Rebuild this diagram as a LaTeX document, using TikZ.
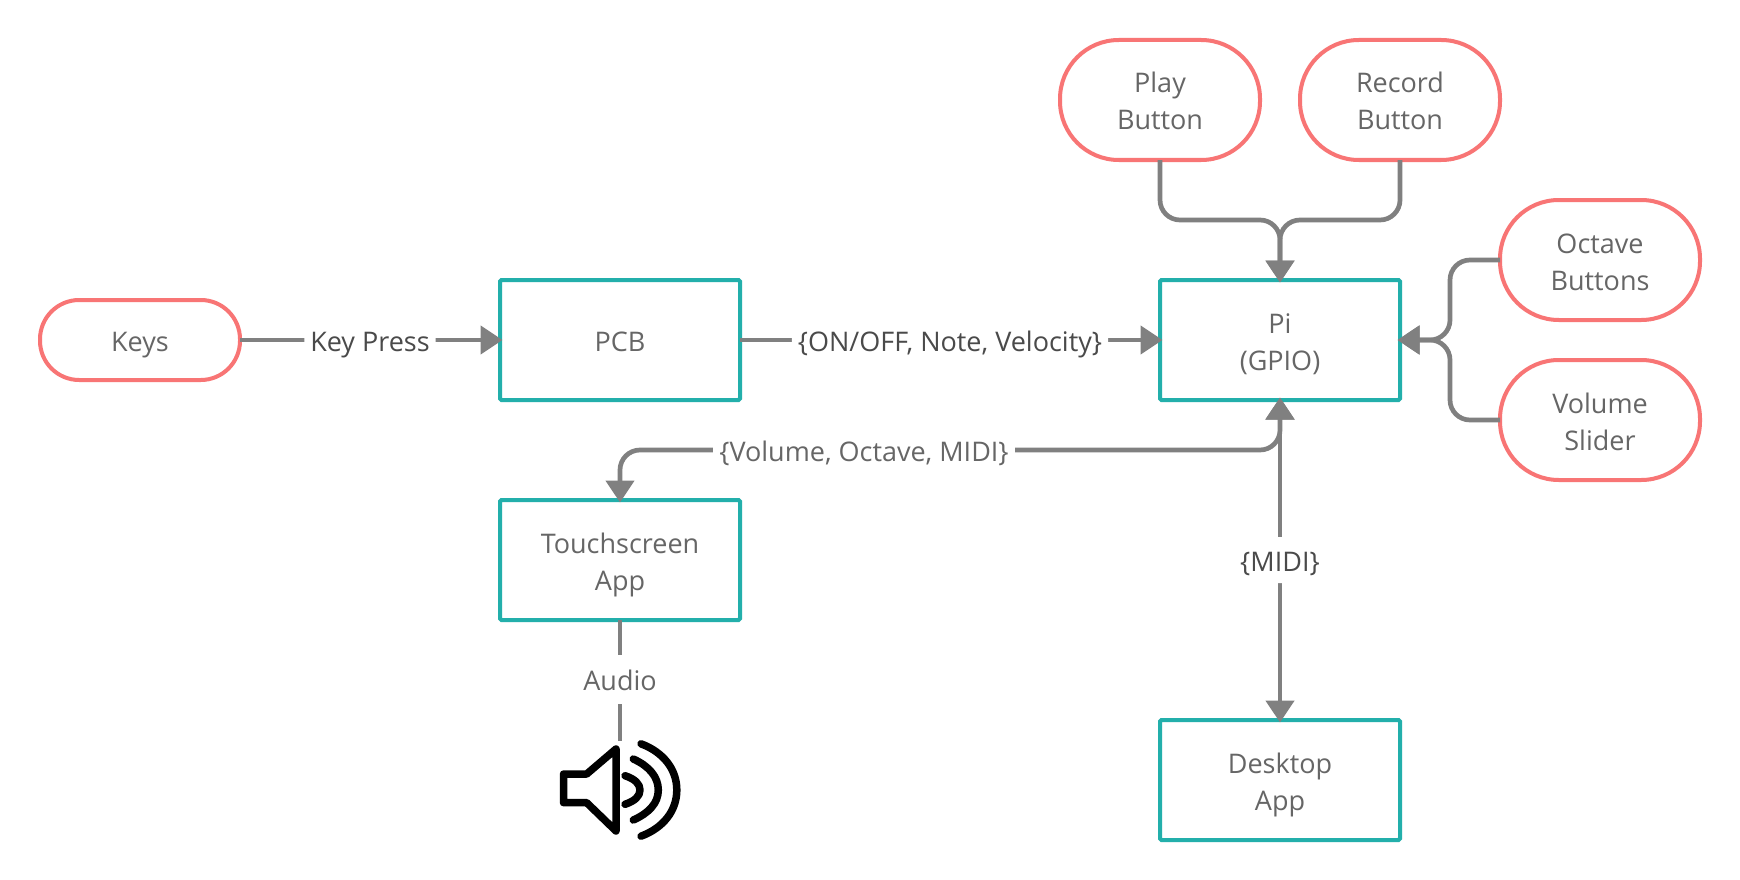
\documentclass[tikz,border=0pt]{standalone}
\usepackage{fontspec}
\setmainfont{Open Sans}
\usetikzlibrary{arrows.meta}
\definecolor{teal1}{HTML}{23AFAB}
\definecolor{red1}{HTML}{F87575}
\definecolor{conn1}{HTML}{808080}
\definecolor{txt1}{HTML}{666666}
\definecolor{txt2}{HTML}{4A4A4A}
\newcommand{\linestrut}{\rule[-7pt]{0pt}{37pt}}
\tikzset{
  x=1pt,y=-1pt,
  basefont/.style={font=\fontsize{27}{37}\selectfont,align=center,text=txt1},
  boxn/.style={basefont,draw=teal1,line width=4pt,rounded corners=1.5pt,minimum width=240pt,minimum height=120pt,outer sep=0pt,inner sep=0pt,fill=white},
  pill/.style={basefont,draw=red1,line width=4pt,minimum width=200pt,minimum height=#1,rounded corners=0.49*#1,outer sep=0pt,inner sep=0pt,fill=white},
  pill/.default=120pt,
  conn/.style={draw=conn1,line width=4.7pt,rounded corners=20pt,shorten >=-2.5pt,-{Triangle[length=22pt,width=28pt,fill=conn1]}},
  biconn/.style={conn,shorten <=-2.5pt,{Triangle[length=22pt,width=28pt,fill=conn1]}-{Triangle[length=22pt,width=28pt,fill=conn1]}},
  plain/.style={draw=conn1,line width=4.7pt},
  lbl/.style={basefont,fill=white,inner sep=0pt,minimum height=46pt,inner xsep=6pt,text=txt1},
  lbldark/.style={lbl,text=txt2},
  spk/.style={draw=black,line width=7.5pt,line cap=round,line join=round},
}
\begin{document}
\begin{tikzpicture}
\useasboundingbox[fill=white] (0,0) rectangle (1740,880);
\coordinate (jt) at (1280,220);
\coordinate (jr) at (1450,340);
\coordinate (volmid) at (864,450);
\coordinate (spkend) at (620,741);
% nodes
\node[pill=80pt] (keys) at (140,340) {\linestrut Keys};
\node[boxn] (pcb) at (620,340) {\linestrut PCB};
\node[boxn] (pi) at (1280,340) {\linestrut Pi\\\linestrut (GPIO)};
\node[boxn] (touch) at (620,560) {\linestrut Touchscreen\\\linestrut App};
\node[boxn] (desk) at (1280,780) {\linestrut Desktop\\\linestrut App};
\node[pill] (play) at (1160,100) {\linestrut Play\\\linestrut Button};
\node[pill] (rec) at (1400,100) {\linestrut Record\\\linestrut Button};
\node[pill] (oct) at (1600,260) {\linestrut Octave\\\linestrut Buttons};
\node[pill] (vol) at (1600,420) {\linestrut Volume\\\linestrut Slider};
% connectors
\draw[conn] (keys) -- node[lbldark,midway] (lk) {\linestrut Key Press} (pcb);
\draw[conn] (pcb) -- node[lbldark,midway] (lo) {\linestrut\{ON/OFF, Note, Velocity\}} (pi);
\draw[conn] (play.south) |- (jt) -- (pi.north);
\draw[conn] (rec.south) |- (jt) -- (pi.north);
\draw[conn] (oct.west) -| (jr) -- (pi.east);
\draw[conn] (vol.west) -| (jr) -- (pi.east);
\draw[biconn] (pi.south) |- (volmid) -| (touch.north);
\node[lbl,minimum height=37pt] (lv) at (volmid) {\linestrut\{Volume, Octave, MIDI\}};
\draw[biconn] (pi.south) -- node[lbldark,midway,inner xsep=2pt] (lm) {\linestrut\{MIDI\}} (desk.north);
\draw[plain] (touch.south) -- node[lbl,pos=0.49,minimum height=49pt,inner xsep=4pt] (la) {\linestrut Audio} (spkend);
% speaker
\draw[spk] (563.5,774) -- (586.7,774) -- (616,749) -- (616,831) -- (586.7,802.7) -- (563.5,802.7) -- cycle;
\draw[spk] (625,775.7) .. controls (635,779) and (640,784) .. (640,790) .. controls (640,796) and (635,801) .. (625,804.3);
\draw[spk] (633.3,759) .. controls (649,766) and (658.3,777) .. (658.3,790) .. controls (658.3,803) and (649,813) .. (633.3,820);
\draw[spk] (641,743.8) .. controls (663,752) and (676.8,769) .. (676.8,790) .. controls (676.8,811) and (663,828) .. (641,836.2);
\end{tikzpicture}
\end{document}
